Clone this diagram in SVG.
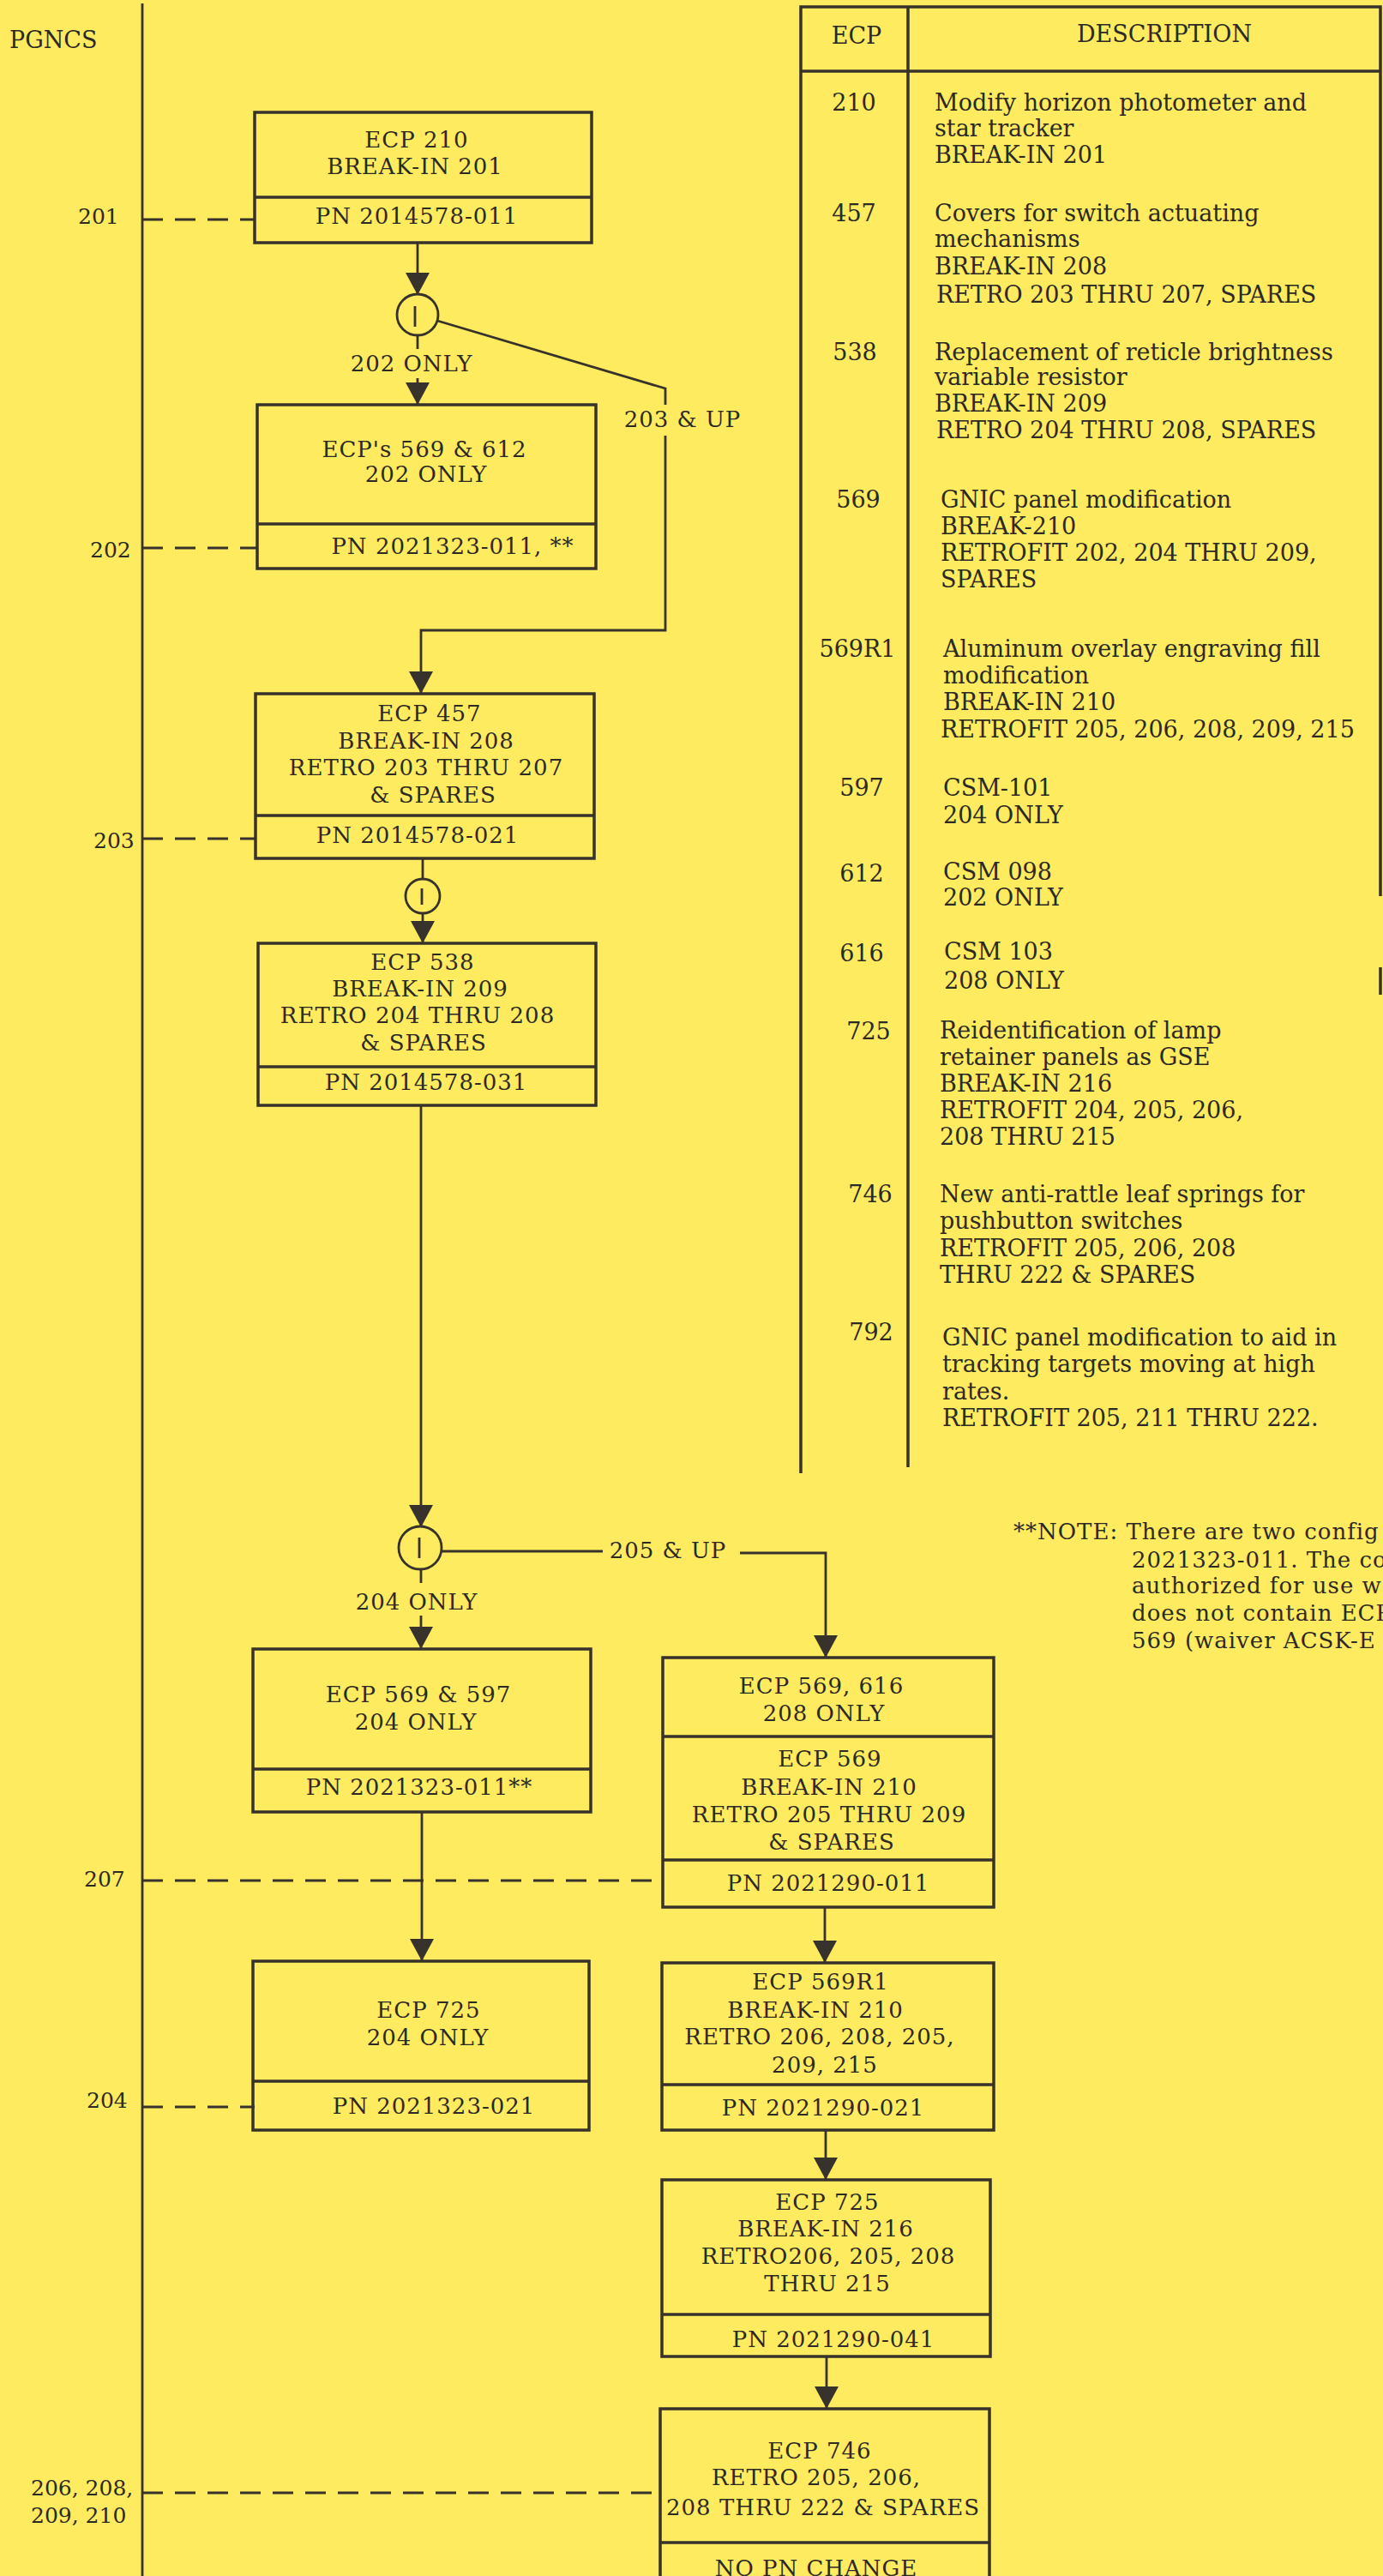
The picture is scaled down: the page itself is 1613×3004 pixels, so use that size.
<svg xmlns="http://www.w3.org/2000/svg" width="1613" height="3004" viewBox="0 0 1613 3004">
<defs>
<style>
.bg{fill:#FEEB5F}
.box{fill:none;stroke:#37322b;stroke-width:3.5}
.dv{stroke:#37322b;stroke-width:3.5}
.ln{fill:none;stroke:#37322b;stroke-width:2.8}
.dash{fill:none;stroke:#37322b;stroke-width:3;stroke-dasharray:24 14}
.tbl{fill:none;stroke:#37322b;stroke-width:3.5}
text{font-family:"DejaVu Serif","Liberation Serif",serif;fill:#2d2924}
.c{font-size:26px;letter-spacing:1px;text-anchor:middle}
.lab{font-size:25px}
.tx{font-size:27px}
.num{font-size:27px;text-anchor:middle}
.note{font-size:26px;letter-spacing:1px}
</style>
<marker id="ah" viewBox="0 0 26 28" refX="26" refY="14" markerWidth="26" markerHeight="28" markerUnits="userSpaceOnUse" orient="auto"><path d="M0,0 L26,14 L0,28 Z" fill="#37322b"/></marker>
</defs>
<rect class="bg" x="0" y="0" width="1613" height="3004"/>

<g id="axis">
<line class="ln" x1="166" y1="4" x2="166" y2="3004"/>
<text class="tx" x="11" y="56">PGNCS</text>
<text class="lab" x="91" y="261">201</text>
<text class="lab" x="105" y="650">202</text>
<text class="lab" x="109" y="989">203</text>
<text class="lab" x="98" y="2200">207</text>
<text class="lab" x="101" y="2458">204</text>
<text class="lab" x="36" y="2910">206, 208,</text>
<text class="lab" x="36" y="2942">209, 210</text>
</g>

<g id="connectors">
<line class="dash" x1="166" y1="256" x2="297" y2="256"/>
<line class="dash" x1="166" y1="639" x2="300" y2="639"/>
<line class="dash" x1="166" y1="978" x2="298" y2="978"/>
<line class="dash" x1="166" y1="2193" x2="772" y2="2193"/>
<line class="dash" x1="166" y1="2457" x2="297" y2="2457"/>
<line class="dash" x1="166" y1="2907" x2="770" y2="2907"/>

<line class="ln" x1="487" y1="283" x2="487" y2="344" marker-end="url(#ah)"/>
<line class="ln" x1="487" y1="391" x2="487" y2="407"/>
<text class="c" x="480" y="433">202 ONLY</text>
<line class="ln" x1="487" y1="441" x2="487" y2="472" marker-end="url(#ah)"/>
<polyline class="ln" points="510,374 776,453 776,472"/>
<text class="c" x="796" y="498">203 &amp; UP</text>
<polyline class="ln" points="776,508 776,735 491,735 491,809" marker-end="url(#ah)"/>

<line class="ln" x1="493" y1="1001" x2="493" y2="1025"/>
<line class="ln" x1="493" y1="1065" x2="493" y2="1100" marker-end="url(#ah)"/>
<line class="ln" x1="491" y1="1289" x2="491" y2="1781" marker-end="url(#ah)"/>
<line class="ln" x1="491" y1="1830" x2="491" y2="1846"/>
<text class="c" x="486" y="1877">204 ONLY</text>
<line class="ln" x1="491" y1="1884" x2="491" y2="1923" marker-end="url(#ah)"/>
<line class="ln" x1="515" y1="1809" x2="703" y2="1809"/>
<text class="c" x="779" y="1817">205 &amp; UP</text>
<polyline class="ln" points="863,1811 963,1811 963,1933" marker-end="url(#ah)"/>

<line class="ln" x1="492" y1="2113" x2="492" y2="2287" marker-end="url(#ah)"/>
<line class="ln" x1="962" y1="2224" x2="962" y2="2289" marker-end="url(#ah)"/>
<line class="ln" x1="963" y1="2484" x2="963" y2="2542" marker-end="url(#ah)"/>
<line class="ln" x1="964" y1="2748" x2="964" y2="2809" marker-end="url(#ah)"/>
</g>

<g id="split1">
<circle class="ln" cx="487" cy="367" r="24"/>
<line class="ln" x1="484" y1="357" x2="484" y2="381"/>
</g>
<g id="split2">
<circle class="ln" cx="493" cy="1045" r="20"/>
<line class="ln" x1="492" y1="1036" x2="492" y2="1055"/>
</g>
<g id="split3">
<circle class="ln" cx="490" cy="1805" r="25"/>
<line class="ln" x1="489" y1="1793" x2="489" y2="1817"/>
</g>

<g id="ecp210">
<rect class="box" x="297" y="131" width="393" height="152"/>
<line class="dv" x1="297" y1="230" x2="690" y2="230"/>
<text class="c" x="486" y="172">ECP 210</text>
<text class="c" x="484" y="203">BREAK-IN 201</text>
<text class="c" x="486" y="261">PN 2014578-011</text>
</g>

<g id="ecp569-612">
<rect class="box" x="300" y="472" width="395" height="191"/>
<line class="dv" x1="300" y1="611" x2="695" y2="611"/>
<text class="c" x="495" y="533">ECP's 569 &amp; 612</text>
<text class="c" x="497" y="562">202 ONLY</text>
<text class="c" x="528" y="646">PN 2021323-011, **</text>
</g>

<g id="ecp457">
<rect class="box" x="298" y="809" width="395" height="192"/>
<line class="dv" x1="298" y1="951" x2="693" y2="951"/>
<text class="c" x="501" y="841">ECP 457</text>
<text class="c" x="497" y="873">BREAK-IN 208</text>
<text class="c" x="497" y="904">RETRO 203 THRU 207</text>
<text class="c" x="505" y="936">&amp; SPARES</text>
<text class="c" x="487" y="983">PN 2014578-021</text>
</g>

<g id="ecp538">
<rect class="box" x="301" y="1100" width="394" height="189"/>
<line class="dv" x1="301" y1="1244" x2="695" y2="1244"/>
<text class="c" x="493" y="1131">ECP 538</text>
<text class="c" x="490" y="1162">BREAK-IN 209</text>
<text class="c" x="487" y="1193">RETRO 204 THRU 208</text>
<text class="c" x="494" y="1225">&amp; SPARES</text>
<text class="c" x="497" y="1271">PN 2014578-031</text>
</g>

<g id="ecp569-597">
<rect class="box" x="295" y="1923" width="394" height="190"/>
<line class="dv" x1="295" y1="2063" x2="689" y2="2063"/>
<text class="c" x="488" y="1985">ECP 569 &amp; 597</text>
<text class="c" x="485" y="2017">204 ONLY</text>
<text class="c" x="489" y="2093">PN 2021323-011**</text>
</g>

<g id="ecp569-616">
<rect class="box" x="773" y="1933" width="386" height="291"/>
<line class="dv" x1="773" y1="2025" x2="1159" y2="2025"/>
<line class="dv" x1="773" y1="2169" x2="1159" y2="2169"/>
<text class="c" x="958" y="1975">ECP 569, 616</text>
<text class="c" x="961" y="2007">208 ONLY</text>
<text class="c" x="968" y="2060">ECP 569</text>
<text class="c" x="967" y="2093">BREAK-IN 210</text>
<text class="c" x="967" y="2125">RETRO 205 THRU 209</text>
<text class="c" x="970" y="2157">&amp; SPARES</text>
<text class="c" x="966" y="2205">PN 2021290-011</text>
</g>

<g id="ecp725-204">
<rect class="box" x="295" y="2287" width="392" height="197"/>
<line class="dv" x1="295" y1="2427" x2="687" y2="2427"/>
<text class="c" x="500" y="2353">ECP 725</text>
<text class="c" x="499" y="2385">204 ONLY</text>
<text class="c" x="506" y="2465">PN 2021323-021</text>
</g>

<g id="ecp569r1">
<rect class="box" x="772" y="2289" width="387" height="195"/>
<line class="dv" x1="772" y1="2431" x2="1159" y2="2431"/>
<text class="c" x="957" y="2320">ECP 569R1</text>
<text class="c" x="951" y="2353">BREAK-IN 210</text>
<text class="c" x="956" y="2384">RETRO 206, 208, 205,</text>
<text class="c" x="962" y="2417">209, 215</text>
<text class="c" x="960" y="2467">PN 2021290-021</text>
</g>

<g id="ecp725-216">
<rect class="box" x="772" y="2542" width="383" height="206"/>
<line class="dv" x1="772" y1="2699" x2="1155" y2="2699"/>
<text class="c" x="965" y="2577">ECP 725</text>
<text class="c" x="963" y="2608">BREAK-IN 216</text>
<text class="c" x="966" y="2640">RETRO206, 205, 208</text>
<text class="c" x="965" y="2672">THRU 215</text>
<text class="c" x="972" y="2737">PN 2021290-041</text>
</g>

<g id="ecp746">
<polyline class="box" points="770,3010 770,2809 1154,2809 1154,3010"/>
<line class="dv" x1="770" y1="2965" x2="1154" y2="2965"/>
<text class="c" x="956" y="2867">ECP 746</text>
<text class="c" x="952" y="2898">RETRO 205, 206,</text>
<text class="c" x="960" y="2933">208 THRU 222 &amp; SPARES</text>
<text class="c" x="952" y="3004">NO PN CHANGE</text>
</g>

<g id="ecp-table">
<polyline class="tbl" points="934,1718 934,8 1610,8 1610,1045"/>
<line class="tbl" x1="1610" y1="1128" x2="1610" y2="1160"/>
<line class="tbl" x1="1059" y1="8" x2="1059" y2="1711"/>
<line class="tbl" x1="934" y1="83" x2="1610" y2="83"/>
<text class="num" x="999" y="51">ECP</text>
<text class="num" x="1358" y="49">DESCRIPTION</text>

<text class="num" x="996" y="129">210</text>
<text class="tx" x="1090" y="129">Modify horizon photometer and</text>
<text class="tx" x="1090" y="159">star tracker</text>
<text class="tx" x="1090" y="190">BREAK-IN 201</text>

<text class="num" x="996" y="258">457</text>
<text class="tx" x="1090" y="258">Covers for switch actuating</text>
<text class="tx" x="1090" y="288">mechanisms</text>
<text class="tx" x="1090" y="320">BREAK-IN 208</text>
<text class="tx" x="1092" y="353">RETRO 203 THRU 207, SPARES</text>

<text class="num" x="997" y="420">538</text>
<text class="tx" x="1090" y="420">Replacement of reticle brightness</text>
<text class="tx" x="1090" y="449">variable resistor</text>
<text class="tx" x="1090" y="480">BREAK-IN 209</text>
<text class="tx" x="1092" y="511">RETRO 204 THRU 208, SPARES</text>

<text class="num" x="1001" y="592">569</text>
<text class="tx" x="1097" y="592">GNIC panel modification</text>
<text class="tx" x="1097" y="623">BREAK-210</text>
<text class="tx" x="1097" y="654">RETROFIT 202, 204 THRU 209,</text>
<text class="tx" x="1097" y="685">SPARES</text>

<text class="num" x="1000" y="766">569R1</text>
<text class="tx" x="1100" y="766">Aluminum overlay engraving fill</text>
<text class="tx" x="1100" y="797">modification</text>
<text class="tx" x="1100" y="828">BREAK-IN 210</text>
<text class="tx" x="1097" y="860">RETROFIT 205, 206, 208, 209, 215</text>

<text class="num" x="1005" y="928">597</text>
<text class="tx" x="1100" y="928">CSM-101</text>
<text class="tx" x="1100" y="960">204 ONLY</text>

<text class="num" x="1005" y="1028">612</text>
<text class="tx" x="1100" y="1026">CSM 098</text>
<text class="tx" x="1100" y="1056">202 ONLY</text>

<text class="num" x="1005" y="1121">616</text>
<text class="tx" x="1101" y="1119">CSM 103</text>
<text class="tx" x="1101" y="1153">208 ONLY</text>

<text class="num" x="1013" y="1212">725</text>
<text class="tx" x="1096" y="1211">Reidentification of lamp</text>
<text class="tx" x="1096" y="1242">retainer panels as GSE</text>
<text class="tx" x="1096" y="1273">BREAK-IN 216</text>
<text class="tx" x="1096" y="1304">RETROFIT 204, 205, 206,</text>
<text class="tx" x="1096" y="1335">208 THRU 215</text>

<text class="num" x="1015" y="1402">746</text>
<text class="tx" x="1096" y="1402">New anti-rattle leaf springs for</text>
<text class="tx" x="1096" y="1433">pushbutton switches</text>
<text class="tx" x="1096" y="1465">RETROFIT 205, 206, 208</text>
<text class="tx" x="1096" y="1496">THRU 222 &amp; SPARES</text>

<text class="num" x="1016" y="1563">792</text>
<text class="tx" x="1099" y="1569">GNIC panel modification to aid in</text>
<text class="tx" x="1099" y="1600">tracking targets moving at high</text>
<text class="tx" x="1099" y="1632">rates.</text>
<text class="tx" x="1099" y="1663">RETROFIT 205, 211 THRU 222.</text>
</g>

<g id="note">
<text class="note" x="1182" y="1795">**NOTE: There are two config</text>
<text class="note" x="1320" y="1828">2021323-011. The co</text>
<text class="note" x="1320" y="1858">authorized for use w</text>
<text class="note" x="1320" y="1890">does not contain ECP</text>
<text class="note" x="1320" y="1922">569 (waiver ACSK-E</text>
</g>
</svg>
